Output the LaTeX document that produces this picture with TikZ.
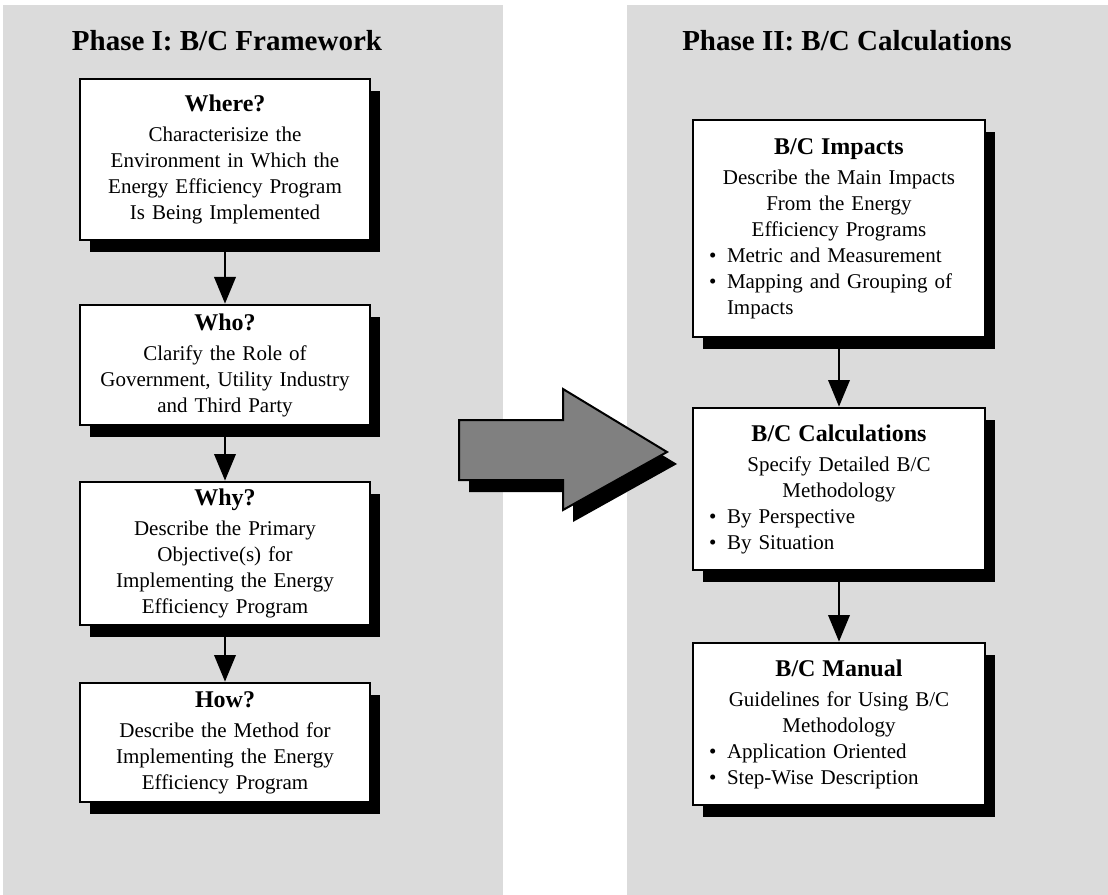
\documentclass[tikz,border=0pt]{standalone}
\usepackage{fontspec}
\setmainfont{Liberation Serif}
\usetikzlibrary{arrows.meta,shadows}

\tikzset{
  phasebox/.style={draw, line width=2pt, fill=white, align=center, inner ysep=4pt,
    font=\fontsize{15.75}{19.5}\selectfont,
    drop shadow={shadow xshift=7.5pt, shadow yshift=-9pt, fill=black, opacity=1}},
  leftbox/.style={phasebox, text width=202.5pt, inner xsep=7.5pt},
  rightbox/.style={phasebox, text width=195pt, inner xsep=12pt},
  flow/.style={line width=2pt, -{Triangle[width=16pt,length=20pt]}},
  phasetitle/.style={font=\fontsize{21.75}{24}\selectfont\bfseries},
  panel/.style={fill=black!14, draw=none}
}
\newcommand{\boxhead}[1]{{\fontsize{18}{19.5}\selectfont\bfseries #1}\\[3pt]}
\newcommand{\bpoint}[1]{\makebox[\linewidth][l]{\makebox[13.5pt][l]{\textbullet}#1}}
\newcommand{\bcont}[1]{\makebox[\linewidth][l]{\hspace*{13.5pt}#1}}

\begin{document}
\begin{tikzpicture}[x=0.75pt,y=-0.75pt]
\useasboundingbox (0,0) rectangle (1108,895);
\fill[panel] (3,5) rectangle (503,895);
\fill[panel] (627,5) rectangle (1108,895);

\node[phasetitle] (title1) at (227,41) {Phase I: B/C Framework};
\node[phasetitle] (title2) at (847,41) {Phase II: B/C Calculations};

\node[leftbox, minimum height=120.75pt] (where) at (225,159.5)
  {\boxhead{Where?}Characterisize the\\Environment in Which the\\Energy Efficiency Program\\Is Being Implemented};
\node[leftbox, minimum height=90pt] (who) at (225,365)
  {\boxhead{Who?}Clarify the Role of\\Government, Utility Industry\\and Third Party};
\node[leftbox, minimum height=107.25pt] (why) at (225,553.5)
  {\boxhead{Why?}Describe the Primary\\Objective(s) for\\Implementing the Energy\\Efficiency Program};
\node[leftbox, minimum height=89.25pt] (how) at (225,742.5)
  {\boxhead{How?}Describe the Method for\\Implementing the Energy\\Efficiency Program};

\node[rightbox, minimum height=162.75pt] (impacts) at (839,228.5)
  {\boxhead{B/C Impacts}Describe the Main Impacts\\From the Energy\\Efficiency Programs\\\bpoint{Metric and Measurement}\\\bpoint{Mapping and Grouping of}\\\bcont{Impacts}};
\node[rightbox, minimum height=121.5pt] (calc) at (839,489)
  {\boxhead{B/C Calculations}Specify Detailed B/C\\Methodology\\\bpoint{By Perspective}\\\bpoint{By Situation}};
\node[rightbox, minimum height=121.5pt] (manual) at (839,724)
  {\boxhead{B/C Manual}Guidelines for Using B/C\\Methodology\\\bpoint{Application Oriented}\\\bpoint{Step-Wise Description}};

\draw[flow] (where.south) -- (who.north);
\draw[flow] (who.south) -- (why.north);
\draw[flow] (why.south) -- (how.north);
\draw[flow] (impacts.south) -- (calc.north);
\draw[flow] (calc.south) -- (manual.north);

\fill[black, shift={(10,12)}] (459,420) -- (563,420) -- (563,389) -- (667,452) -- (563,510) -- (563,480) -- (459,480) -- cycle;
\filldraw[fill=black!50, line width=1.5pt] (459,420) -- (563,420) -- (563,389) -- (667,452) -- (563,510) -- (563,480) -- (459,480) -- cycle;
\end{tikzpicture}
\end{document}
